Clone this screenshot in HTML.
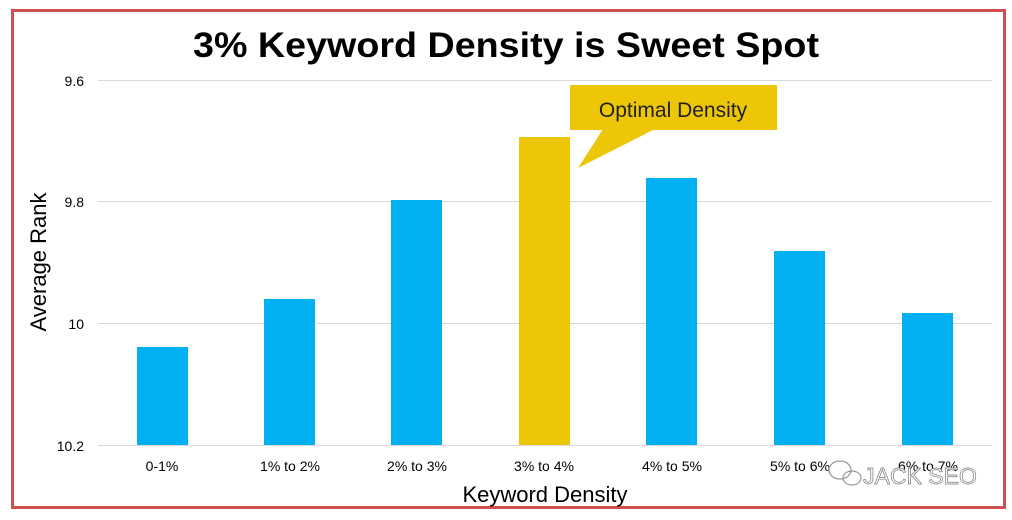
<!DOCTYPE html>
<html><head><meta charset="utf-8"><style>
body{margin:0;background:#fff;}
</style></head><body>
<svg width="1012" height="515" xmlns="http://www.w3.org/2000/svg" font-family="Liberation Sans, DejaVu Sans, sans-serif">
<rect x="0" y="0" width="1012" height="515" fill="#fff"/>
<rect x="12.5" y="10.5" width="992" height="497" fill="none" stroke="#d0504f" stroke-width="3"/>
<text x="506" y="57" text-anchor="middle" font-size="35" font-weight="bold" fill="#000" textLength="626" lengthAdjust="spacingAndGlyphs">3% Keyword Density is Sweet Spot</text>
<g stroke="#d9d9d9" stroke-width="1">
<line x1="98" y1="80.5" x2="992" y2="80.5"/>
<line x1="98" y1="201.5" x2="992" y2="201.5"/>
<line x1="98" y1="323.5" x2="992" y2="323.5"/>
<line x1="98" y1="445.5" x2="992" y2="445.5"/>
</g>
<g font-size="14" fill="#000" text-anchor="end">
<text x="84" y="86">9.6</text>
<text x="84" y="207">9.8</text>
<text x="84" y="329">10</text>
<text x="84" y="451">10.2</text>
</g>
<g fill="#00b0f0">
<rect x="137" y="347" width="51" height="98"/>
<rect x="264" y="299" width="51" height="146"/>
<rect x="391" y="200" width="51" height="245"/>
<rect x="646" y="178" width="51" height="267"/>
<rect x="774" y="251" width="51" height="194"/>
<rect x="902" y="313" width="51" height="132"/>
</g>
<rect x="519" y="137" width="51" height="308" fill="#eec608"/>
<rect x="570" y="85" width="207" height="45" fill="#eec608"/>
<polygon points="603,129 655,129 578,168" fill="#eec608"/>
<text x="673" y="117" text-anchor="middle" font-size="21" fill="#222">Optimal Density</text>
<g font-size="14" fill="#000" text-anchor="middle">
<text x="162" y="471">0-1%</text>
<text x="290" y="471">1% to 2%</text>
<text x="417" y="471">2% to 3%</text>
<text x="544" y="471">3% to 4%</text>
<text x="672" y="471">4% to 5%</text>
<text x="800" y="471">5% to 6%</text>
<text x="928" y="471">6% to 7%</text>
</g>
<text x="545" y="502" text-anchor="middle" font-size="22" fill="#000">Keyword Density</text>
<text transform="translate(46,262) rotate(-90)" text-anchor="middle" font-size="22" fill="#000">Average Rank</text>
<g fill="none" stroke="#999" stroke-width="1.2">
<ellipse cx="840" cy="470" rx="11" ry="9"/>
<ellipse cx="852" cy="478" rx="9" ry="7"/>
</g>
<text x="920" y="484" text-anchor="middle" font-size="23" fill="#fff" stroke="#777" stroke-width="0.7">JACK SEO</text>
</svg>
</body></html>
